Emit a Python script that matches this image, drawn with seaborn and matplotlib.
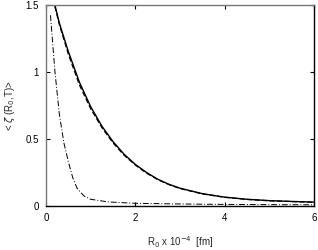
import matplotlib
matplotlib.use("Agg")
import matplotlib.pyplot as plt
import seaborn as sns
import pandas as pd

# Data
x_solid = [0.15, 0.3, 0.5, 0.75, 1.0, 1.25, 1.5, 1.75, 2.0, 2.25, 2.5, 2.75, 3.0, 3.5, 4.0, 4.5, 5.0, 5.5, 6.0]
y_solid = [1.56, 1.36, 1.15, 0.92, 0.74, 0.595, 0.48, 0.385, 0.31, 0.25, 0.2, 0.162, 0.133, 0.092, 0.066, 0.05, 0.04, 0.034, 0.029]
y_dashed = [1.55, 1.35, 1.13, 0.90, 0.725, 0.585, 0.47, 0.378, 0.305, 0.245, 0.197, 0.16, 0.13, 0.09, 0.065, 0.049, 0.039, 0.033, 0.028]

x_dashdot = [0.1, 0.2, 0.3, 0.4, 0.5, 0.6, 0.7, 0.85, 1.0, 1.4, 2.0, 3.0, 4.0, 5.0, 6.0]
y_dashdot = [1.42, 1.0, 0.68, 0.47, 0.33, 0.21, 0.13, 0.075, 0.05, 0.03, 0.02, 0.015, 0.012, 0.01, 0.009]

x_ticks = [0, 2, 4, 6]
y_ticks = [0, 0.5, 1, 1.5]
y_tick_labels = ["0", "0.5", "1", "1.5"]

sns.set_theme(style="white")
plt.rcParams['font.family'] = ['Liberation Sans', 'DejaVu Sans']

fig = plt.figure(figsize=(3.18, 2.5), dpi=100)
ax = fig.add_axes([0.1447, 0.176, 0.842, 0.806])

df_s = pd.DataFrame({"x": x_solid, "y": y_solid})
df_d = pd.DataFrame({"x": x_solid, "y": y_dashed})
df_dd = pd.DataFrame({"x": x_dashdot, "y": y_dashdot})

sns.lineplot(data=df_d, x="x", y="y", ax=ax, color="black", lw=0.9, linestyle=(0, (4, 2)), sort=False, estimator=None)
sns.lineplot(data=df_s, x="x", y="y", ax=ax, color="black", lw=1.0, sort=False, estimator=None)
sns.lineplot(data=df_dd, x="x", y="y", ax=ax, color="black", lw=0.7, linestyle=(0, (6, 2, 1, 2)), sort=False, estimator=None)

ax.set_xlim(0, 6)
ax.set_ylim(0, 1.5)
ax.set_xticks(x_ticks)
ax.set_xticklabels([str(t) for t in x_ticks])
ax.set_yticks(y_ticks)
ax.set_yticklabels(y_tick_labels)
ax.tick_params(direction="in", length=3, width=0.8, labelsize=7, top=True, right=True,
               bottom=True, left=True, pad=5, colors="black")
ax.set_xlabel(r"R$_0$ x 10$^{-4}$  [fm]", fontsize=7, labelpad=8)
ax.set_ylabel(r"< $\zeta$ (R$_0$,T)>", fontsize=7, va="center")
ax.yaxis.set_label_coords(-0.135, 0.5)

for side in ["left", "top"]:
    ax.spines[side].set_color("#777777")
    ax.spines[side].set_linewidth(1.0)
for side in ["bottom", "right"]:
    ax.spines[side].set_color("black")
    ax.spines[side].set_linewidth(1.0)
ax.grid(False)

fig.savefig("out.png", dpi=100)
